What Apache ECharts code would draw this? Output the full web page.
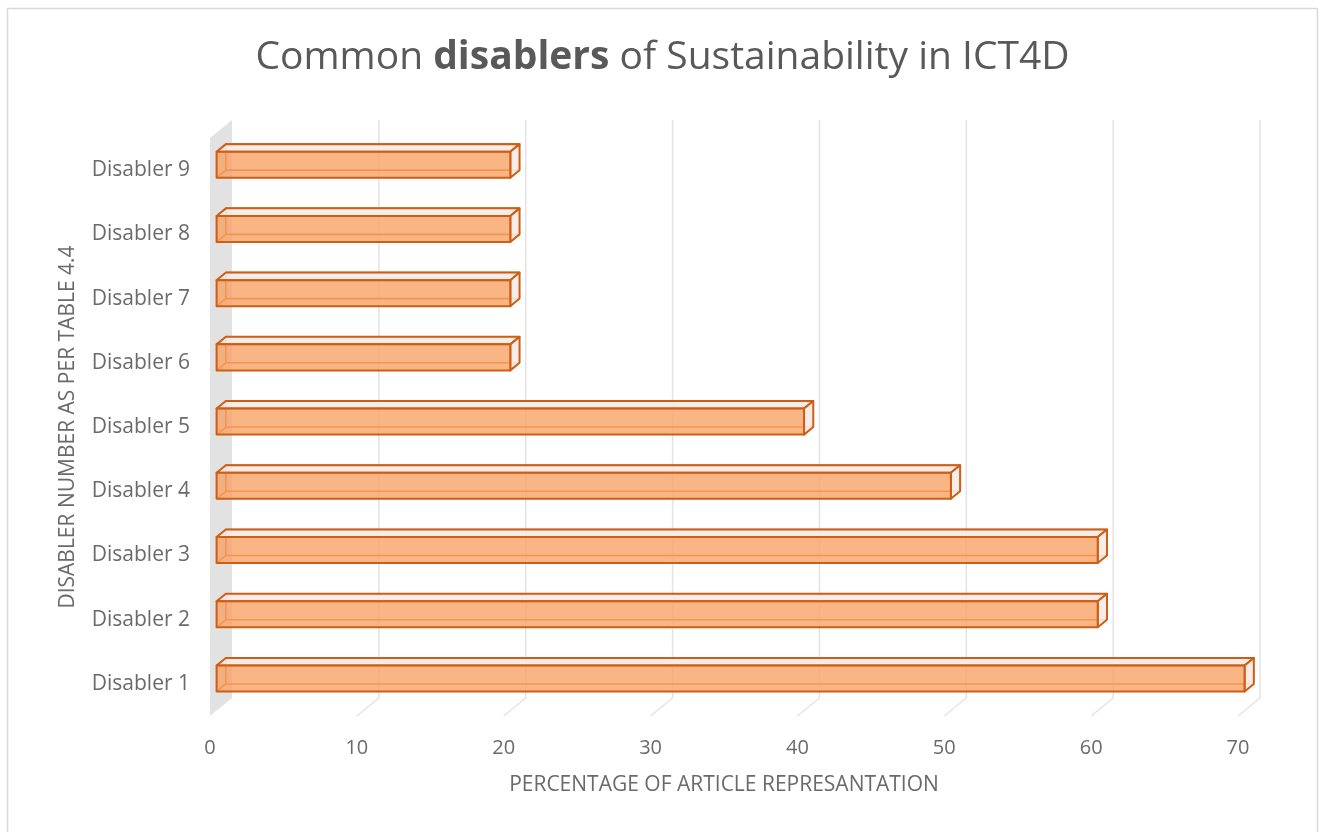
<!DOCTYPE html>
<html>
<head>
<meta charset="utf-8">
<title>Common disablers of Sustainability in ICT4D</title>
<script src="https://cdn.jsdelivr.net/npm/echarts@6/dist/echarts.min.js"></script>
<style>
  html, body { margin: 0; padding: 0; background: #ffffff; }
  #chart { width: 1325px; height: 832px; }
</style>
</head>
<body>
<div id="chart"></div>
<script>
// Categories (bottom to top) and their percentages
const categories = ['Disabler 1', 'Disabler 2', 'Disabler 3', 'Disabler 4', 'Disabler 5',
                    'Disabler 6', 'Disabler 7', 'Disabler 8', 'Disabler 9'];
const percentages = [70, 60, 60, 50, 40, 20, 20, 20, 20];
const xTicks = [0, 10, 20, 30, 40, 50, 60, 70];

// Oblique depth of the 3D plot box (pixels from the front plane to the back wall)
const DEPTH = { x: 22, y: -18 };
// Bars sit in the middle slice of that depth
const BAR_T0 = 0.3, BAR_T1 = 0.72;
const BAR_FRAC = 0.405;

const EDGE = '#CC5E16';
const FRONT_FILL = 'rgba(249,162,102,0.80)';
const SIDE_FILL = 'rgba(246,234,228,0.9)';
const GRID_COLOR = '#e3e3e3';
const TEXT = '#595959';
const LABEL = '#6a6a6a';
const FONT = '"Open Sans", "Noto Sans", sans-serif';

const chart = echarts.init(document.getElementById('chart'), null, { renderer: 'canvas' });

// Back wall gridlines, floor ticks and the left side wall
function renderFrame(params, api) {
  const cs = params.coordSys;
  const v = api.value(0);
  const xf = api.coord([v, 0])[0];
  const yBotF = cs.y + cs.height;
  const yTopF = cs.y;
  const xb = xf + DEPTH.x;
  const children = [];
  if (v === 0) {
    children.push({
      type: 'polygon',
      shape: { points: [[xf, yBotF], [xf, yTopF], [xb, yTopF + DEPTH.y], [xb, yBotF + DEPTH.y]] },
      style: { fill: '#e2e2e2', stroke: null }
    });
  } else {
    children.push({
      type: 'line',
      shape: { x1: xb, y1: yTopF + DEPTH.y, x2: xb, y2: yBotF + DEPTH.y },
      style: { stroke: GRID_COLOR, lineWidth: 1.5 }
    });
    children.push({
      type: 'line',
      shape: { x1: xb, y1: yBotF + DEPTH.y, x2: xf, y2: yBotF },
      style: { stroke: GRID_COLOR, lineWidth: 1.5 }
    });
  }
  return { type: 'group', children };
}

// A see-through 3D box for each bar
function renderBar(params, api) {
  const idx = api.value(1);
  const val = api.value(0);
  const end = api.coord([val, idx]);
  const start = api.coord([0, idx]);
  const band = api.size([0, 1])[1];
  const h = band * BAR_FRAC;
  const fx = DEPTH.x * BAR_T0, fy = DEPTH.y * BAR_T0;
  const bx = DEPTH.x * BAR_T1, by = DEPTH.y * BAR_T1;
  const x0 = start[0] + fx, x1 = end[0] + fx;
  const yT = end[1] + fy - h / 2, yB = end[1] + fy + h / 2;
  const dx = bx - fx, dy = by - fy;
  const edge = { stroke: EDGE, lineWidth: 2, lineJoin: 'round' };
  const thin = { stroke: EDGE, lineWidth: 1.6, lineJoin: 'round' };
  return {
    type: 'group',
    children: [
      // hidden back edges
      { type: 'polyline', shape: { points: [[x0 + dx, yB + dy], [x0 + dx, yT + dy], [x1 + dx, yT + dy]] }, style: Object.assign({ fill: null }, thin) },
      { type: 'polyline', shape: { points: [[x0 + dx, yB + dy], [x1 + dx, yB + dy]] }, style: Object.assign({ fill: null }, thin) },
      { type: 'line', shape: { x1: x0, y1: yB, x2: x0 + dx, y2: yB + dy }, style: thin },
      // top face
      { type: 'polygon', shape: { points: [[x0, yT], [x0 + dx, yT + dy], [x1 + dx, yT + dy], [x1, yT]] }, style: Object.assign({ fill: SIDE_FILL }, edge) },
      // right face
      { type: 'polygon', shape: { points: [[x1, yT], [x1 + dx, yT + dy], [x1 + dx, yB + dy], [x1, yB]] }, style: Object.assign({ fill: SIDE_FILL }, edge) },
      // front face
      { type: 'rect', shape: { x: x0, y: yT, width: x1 - x0, height: yB - yT }, style: Object.assign({ fill: FRONT_FILL }, edge) }
    ]
  };
}

const option = {
  backgroundColor: '#ffffff',
  animation: false,
  title: {
    text: '{n|Common }{b|disablers}{n| of Sustainability in ICT4D}',
    left: 'center',
    top: 33,
    textStyle: {
      rich: {
        n: { fontFamily: FONT, fontSize: 39, color: TEXT, fontWeight: 'normal' },
        b: { fontFamily: FONT, fontSize: 39, color: TEXT, fontWeight: 'bold' }
      }
    }
  },
  graphic: [{
    type: 'rect',
    shape: { x: 7.5, y: 8.5, width: 1310, height: 840 },
    style: { fill: null, stroke: '#d9d9d9', lineWidth: 1.5 },
    z: -1
  }],
  grid: { left: 210, right: 87, top: 138, bottom: 116, containLabel: false },
  xAxis: {
    type: 'value',
    min: 0, max: 70, interval: 10,
    name: 'PERCENTAGE OF ARTICLE REPRESANTATION',
    nameLocation: 'middle',
    nameGap: 59,
    nameTextStyle: { fontFamily: FONT, fontSize: 21, color: LABEL },
    axisLine: { show: false },
    axisTick: { show: false },
    splitLine: { show: false },
    axisLabel: {
      margin: 22, fontFamily: FONT, fontSize: 20, color: LABEL,
      formatter: v => (xTicks.indexOf(v) >= 0 ? String(v) : '')
    }
  },
  yAxis: {
    type: 'category',
    data: categories,
    name: 'DISABLER NUMBER AS PER TABLE 4.4',
    nameLocation: 'middle',
    nameGap: 131,
    nameRotate: 90,
    nameTextStyle: { fontFamily: FONT, fontSize: 21, color: LABEL },
    axisLine: { show: false },
    axisTick: { show: false },
    splitLine: { show: false },
    axisLabel: { margin: 20, fontFamily: FONT, fontSize: 21, color: LABEL }
  },
  series: [
    {
      type: 'custom',
      name: 'frame',
      renderItem: renderFrame,
      data: xTicks.map(v => [v, 0]),
      encode: { x: 0, y: 1 },
      silent: true,
      z: 1
    },
    {
      type: 'custom',
      name: 'Percentage',
      renderItem: renderBar,
      data: percentages.map((v, i) => [v, i]),
      encode: { x: 0, y: 1 },
      z: 2
    }
  ]
};

chart.setOption(option);
</script>
</body>
</html>
